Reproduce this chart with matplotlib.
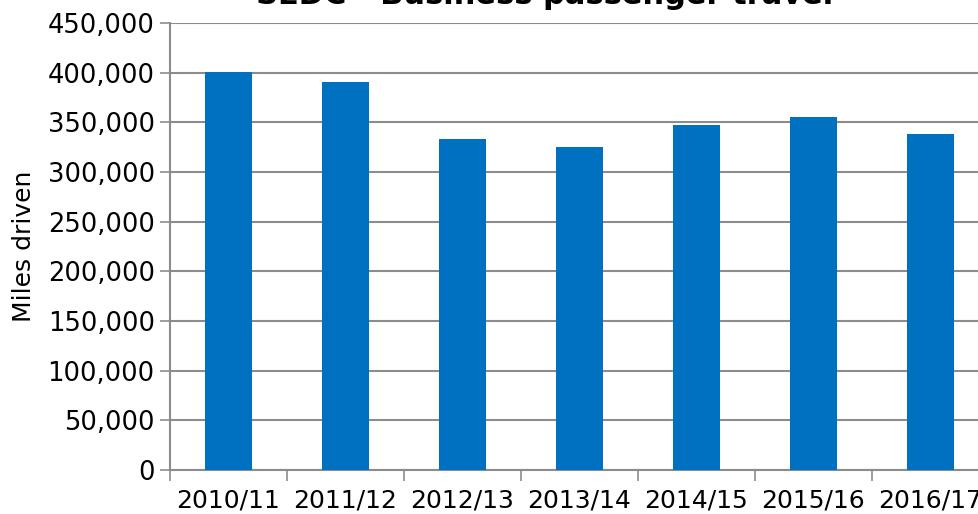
import numpy as np
import matplotlib.pyplot as plt
from matplotlib.ticker import FuncFormatter, FixedLocator

years = ['2010/11', '2011/12', '2012/13', '2013/14', '2014/15', '2015/16', '2016/17']
miles = [401000, 390500, 333500, 325500, 347500, 355500, 338500]

fig = plt.figure(figsize=(9.79, 5.14), dpi=100)
ax = fig.add_axes([170 / 979, 44 / 514, 819 / 979, 447 / 514])

x = np.arange(len(years))
ax.bar(x, miles, width=0.4, color='#0070C0', zorder=3)

ax.set_xlim(-0.5, len(years) - 0.5)
ax.set_ylim(0, 450000)
ax.set_yticks(np.arange(0, 450001, 50000))
ax.yaxis.set_major_formatter(FuncFormatter(lambda v, p: f'{int(v):,}'))
ax.grid(axis='y', color='#8c8c8c', linewidth=1.5, zorder=1)

ax.set_xticks(x)
ax.set_xticklabels(years)
ax.xaxis.set_minor_locator(FixedLocator(np.arange(-0.5, len(years), 1)))
ax.tick_params(axis='x', which='major', length=0, pad=13, labelsize=18)
ax.tick_params(axis='x', which='minor', length=8, width=1.2, color='#8c8c8c')
ax.tick_params(axis='y', length=7, width=1.2, color='#8c8c8c', labelsize=18.5, pad=4)

for s in ['top', 'right']:
    ax.spines[s].set_visible(False)
for s in ['left', 'bottom']:
    ax.spines[s].set_color('#8c8c8c')
    ax.spines[s].set_linewidth(1.5)

ax.set_ylabel('Miles driven', fontsize=18, labelpad=8)
fig.text(545 / 979, 0.992, 'SEDC - Business passenger travel', ha='center', va='baseline',
         fontsize=22, fontweight='bold')

fig.savefig('out.png', dpi=100)
